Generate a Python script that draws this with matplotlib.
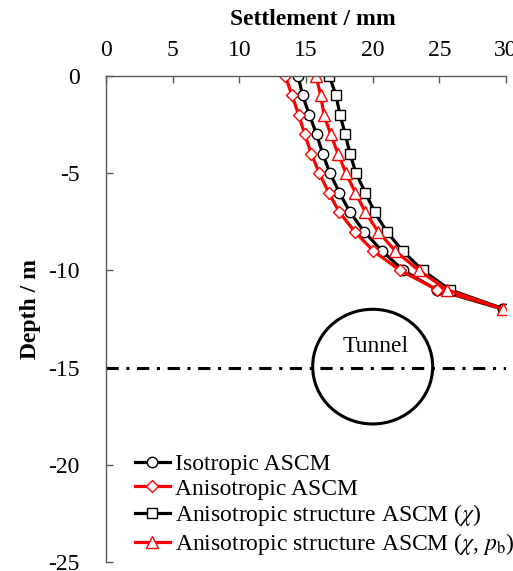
import numpy as np
import matplotlib.pyplot as plt
from matplotlib.patches import Ellipse

plt.rcParams['font.family'] = ['Liberation Serif', 'DejaVu Serif']
plt.rcParams['mathtext.fontset'] = 'stix'
plt.rcParams['axes.unicode_minus'] = False

# depth of each point / m
depth = [0, -1, -2, -3, -4, -5, -6, -7, -8, -9, -10, -11, -12]

# settlement / mm
iso = [14.4, 14.75, 15.25, 15.8, 16.25, 16.8, 17.5, 18.3, 19.35, 20.7, 22.3, 24.8, 29.8]
aniso = [13.45, 13.95, 14.45, 14.9, 15.4, 16.0, 16.7, 17.5, 18.65, 20.05, 22.05, 24.85, 30.05]
aniso_chi = [16.75, 17.25, 17.55, 17.95, 18.3, 18.75, 19.45, 20.15, 21.05, 22.25, 23.75, 25.8, 29.9]
aniso_chi_pb = [15.75, 16.1, 16.35, 16.85, 17.4, 18.0, 18.7, 19.45, 20.4, 21.7, 23.45, 25.6, 29.8]

labels = ['Isotropic ASCM', 'Anisotropic ASCM',
          r'Anisotropic structure ASCM ($\chi$)',
          r'Anisotropic structure ASCM ($\chi$, $p_\mathrm{b}$)']

fig = plt.figure(figsize=(5.13, 5.71), dpi=100)
ax = fig.add_axes([0.2066, 0.0158, 0.7798, 0.8511])

series = [(iso, 'k', 'o'), (aniso, 'r', 'D'), (aniso_chi, 'k', 's'), (aniso_chi_pb, 'r', '^')]
for (vals, c, m), lab in zip(series, labels):
    ms = 6.5 if m == 'D' else 7.5
    if m == '^':
        ms = 8.5
    ax.plot(vals, depth, color=c, lw=2.3, marker=m, ms=ms, mfc='white',
            mec=c, mew=1.0, label=lab)

# tunnel axis and outline
ax.plot([0, 30], [-15, -15], color='k', lw=2.2, ls=(0, (4, 2.5, 1, 2.5)))
ax.add_patch(Ellipse((20.0, -14.95), 9.0, 5.9, fill=False, ec='k', lw=2.2))
ax.text(20.2, -13.9, 'Tunnel', ha='center', va='center', fontsize=17)

ax.set_xlim(0, 30)
ax.set_ylim(-25, 0)
ax.set_xticks(np.arange(0, 31, 5))
ax.set_yticks(np.arange(-25, 1, 5))
ax.xaxis.tick_top()
ax.xaxis.set_label_position('top')
ax.spines['right'].set_visible(False)
ax.spines['bottom'].set_visible(False)
for s in ['top', 'left']:
    ax.spines[s].set_color('#595959')
    ax.spines[s].set_linewidth(1.0)
ax.tick_params(direction='in', length=5, width=1, color='#595959', labelsize=17)
ax.tick_params(axis='x', pad=10.5)
ax.tick_params(axis='y', pad=19)
ax.set_xlabel('Settlement / mm', fontsize=17, fontweight='bold')
ax.set_ylabel('Depth / m', fontsize=17, fontweight='bold')
ax.xaxis.set_label_coords(0.518, 1.117)
ax.xaxis.label.set_verticalalignment('center')
ax.yaxis.set_label_coords(-0.1875, 0.52)
ax.yaxis.label.set_verticalalignment('center')

ax.legend(loc='lower left', bbox_to_anchor=(0.06, 0.0), frameon=False, fontsize=17,
          numpoints=1, handlelength=1.5, handletextpad=0.2, labelspacing=0.12,
          borderpad=0.2, borderaxespad=0)

fig.savefig('out.png', dpi=100)
